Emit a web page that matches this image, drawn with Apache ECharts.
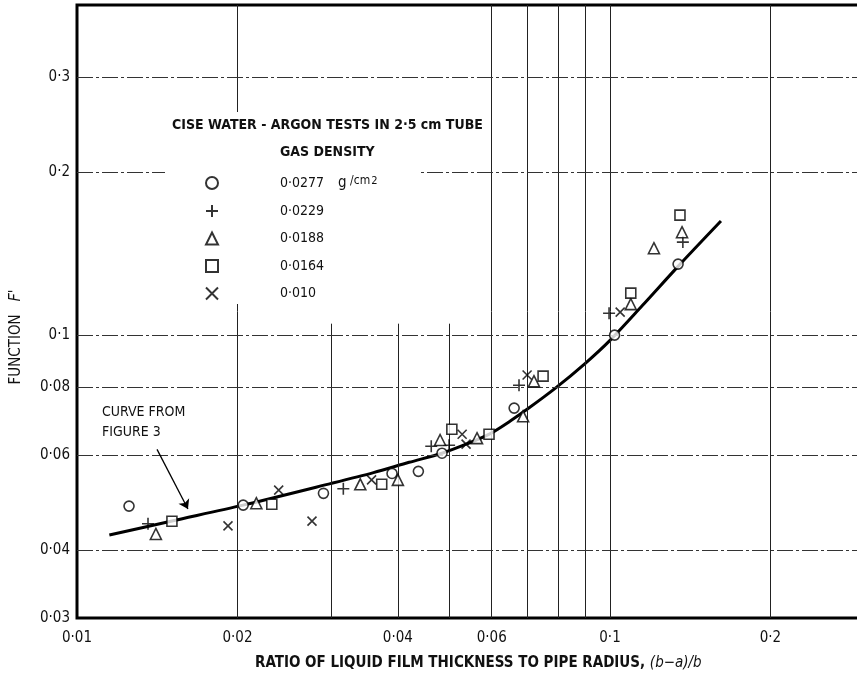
<!DOCTYPE html>
<html>
<head>
<meta charset="utf-8">
<script src="https://cdn.jsdelivr.net/npm/echarts@6/dist/echarts.min.js"></script>
<style>
html,body{margin:0;padding:0;background:#fff;}
#c{width:857px;height:679px;}
</style>
</head>
<body>
<div id="c"></div>
<script>
// ---- data (x = (b-a)/b, y = F') ----
const xTicks = [0.01, 0.02, 0.04, 0.06, 0.1, 0.2];
const yTicks = [0.03, 0.04, 0.06, 0.08, 0.1, 0.2, 0.3];
const xGridFull = [0.02, 0.06, 0.07, 0.08, 0.09, 0.1, 0.2];
const xGridPartial = [0.03, 0.04, 0.05];
const yGrid = [0.04, 0.06, 0.08, 0.1, 0.2, 0.3];

const densities = ['0·0277', '0·0229', '0·0188', '0·0164', '0·010'];

const circlePts = [[0.01252,0.0483],[0.0205,0.0485],[0.0290,0.0510],[0.0390,0.0555],[0.0437,0.0560],[0.0484,0.0605],[0.0661,0.0733],[0.102,0.100],[0.1342,0.1353]];
const plusPts = [[0.01359,0.0448],[0.0316,0.0520],[0.0462,0.0623],[0.0499,0.0626],[0.0675,0.0808],[0.0996,0.1098],[0.137,0.1486]];
const trianglePts = [[0.01406,0.0429],[0.0217,0.0489],[0.0340,0.0530],[0.0400,0.0540],[0.0480,0.0640],[0.0563,0.0645],[0.0687,0.0708],[0.0720,0.0822],[0.1094,0.1141],[0.1209,0.1448],[0.1365,0.1550]];
const squarePts = [[0.01507,0.0453],[0.0232,0.0487],[0.0373,0.0530],[0.0505,0.0670],[0.0593,0.0656],[0.0749,0.0840],[0.1094,0.1196],[0.1353,0.1667]];
const crossPts = [[0.0192,0.0444],[0.0239,0.0517],[0.0276,0.0453],[0.0357,0.0540],[0.0528,0.0656],[0.0537,0.0629],[0.0699,0.0844],[0.1045,0.1103]];

const curveX = [0.0115,0.015,0.0205,0.03,0.036,0.042,0.0484,0.054,0.0595,0.065,0.07,0.079,0.09,0.10,0.115,0.1342,0.1615];
const curveY = [0.0427,0.0453,0.0485,0.0532,0.0557,0.0582,0.0605,0.0630,0.0657,0.0694,0.0730,0.0798,0.0888,0.0978,0.1134,0.1340,0.1625];

const arrowFrom = [0.01413, 0.0615];
const arrowTo = [0.01615, 0.0477];

// ---- axis extents (log10 space) ----
const X_MIN = -2, X_MAX = -0.5253;
const Y_MIN = Math.log10(0.03), Y_MAX = -0.3897;

// ---- helpers ----
const L = Math.log10;
const fmt = v => String(Number(Math.pow(10, v).toPrecision(3))).replace('.', '·');
const P = pts => pts.map(p => [L(p[0]), L(p[1])]);
const FONT = "'Liberation Sans Narrow', 'DejaVu Sans Condensed', 'Roboto Condensed', sans-serif";

const markerBase = {type: 'scatter', z: 5, itemStyle: {color: '#fff', borderColor: '#000', borderWidth: 1.6}};
const plusPath = 'path://M0,6H12M6,0V12';
const crossPath = 'path://M0,0L10,10M10,0L0,10';

const vLines = [];
xGridFull.forEach(x => vLines.push([{coord: [L(x), Y_MIN]}, {coord: [L(x), Y_MAX]}]));
xGridPartial.forEach(x => vLines.push([{coord: [L(x), Y_MIN]}, {coord: [L(x), L(0.105)]}]));
const hLines = yGrid.map(y => [{coord: [X_MIN, L(y)]}, {coord: [X_MAX, L(y)]}]);

const chart = echarts.init(document.getElementById('c'), null, {renderer: 'canvas'});
chart.setOption({
  animation: false,
  backgroundColor: '#fff',
  grid: {left: 77, top: 5, width: 786, height: 613, outerBoundsMode: 'none', containLabel: false,
    show: true, borderColor: '#000', borderWidth: 3, backgroundColor: 'transparent'},
  xAxis: {
    type: 'value', min: X_MIN, max: X_MAX,
    axisLine: {show: false}, axisTick: {show: false}, splitLine: {show: false},
    axisLabel: {customValues: xTicks.map(L), formatter: fmt, color: '#111', fontSize: 15, fontFamily: FONT, margin: 13}
  },
  yAxis: {
    type: 'value', min: Y_MIN, max: Y_MAX,
    axisLine: {show: false}, axisTick: {show: false}, splitLine: {show: false},
    axisLabel: {customValues: yTicks.map(L), formatter: fmt, color: '#111', fontSize: 15, fontFamily: FONT, margin: 7}
  },
  legend: {
    orient: 'vertical', left: 200, top: 170, z: 20,
    itemWidth: 12, itemHeight: 12, itemGap: 13.5, selectedMode: false,
    data: densities,
    formatter: name => name === densities[0]
      ? '{s|}{t|' + name + '}{g|g}{c| /cm}{p|2}'
      : '{s|}{t|' + name + '}',
    textStyle: {
      fontFamily: FONT, fontSize: 14, color: '#111', lineHeight: 14,
      rich: {
        s: {width: 57},
        t: {fontFamily: FONT, fontSize: 14, color: '#111'},
        g: {fontFamily: FONT, fontSize: 15, color: '#111', padding: [0, 0, 0, 14]},
        c: {fontFamily: FONT, fontSize: 12, color: '#111', verticalAlign: 'bottom', padding: [0, 0, 3, 0]},
        p: {fontFamily: FONT, fontSize: 11, color: '#111', verticalAlign: 'top', padding: [0, 0, 10, 1]}
      }
    }
  },
  graphic: [
    {type: 'rect', z: 10, shape: {x: 165, y: 112, width: 255, height: 192}, style: {fill: '#fff'}},
    {type: 'text', z: 21, left: 172, top: 118, style: {text: 'CISE WATER - ARGON TESTS IN 2·5 cm TUBE', font: 'bold 14px ' + FONT, fill: '#111'}},
    {type: 'text', z: 21, left: 280, top: 145, style: {text: 'GAS DENSITY', font: 'bold 14px ' + FONT, fill: '#111'}},
    {type: 'text', z: 21, left: 102, top: 402, style: {text: 'CURVE FROM\nFIGURE 3', font: '14px ' + FONT, fill: '#111', lineHeight: 20}},
    {type: 'text', z: 21, x: 16, y: 337, rotation: Math.PI / 2,
      style: {text: '{a|FUNCTION   }{b|F}{a|\'}', align: 'center', verticalAlign: 'middle',
        rich: {a: {font: '15px ' + FONT, fill: '#111'}, b: {font: 'italic 16px ' + FONT, fill: '#111'}}}},
    {type: 'text', z: 21, left: 255, top: 656,
      style: {text: '{a|RATIO OF LIQUID FILM THICKNESS TO PIPE RADIUS, }{i|(b−a)/b}',
        rich: {a: {font: 'bold 15px ' + FONT, fill: '#111'}, i: {font: 'italic 15px ' + FONT, fill: '#111'}}}}
  ],
  series: [
    {
      type: 'line', name: 'grid', silent: true, data: [], z: 1,
      markLine: {
        silent: true, symbol: 'none', label: {show: false}, animation: false,
        lineStyle: {color: '#222', width: 1, type: 'solid'},
        data: vLines.concat(hLines.map(h => [Object.assign({}, h[0], {lineStyle: {type: [16, 3, 3, 3], color: '#333', width: 1}}), h[1]]))
      }
    },
    {
      type: 'line', name: 'curve', z: 4, silent: true, smooth: 0.3, symbol: 'none',
      lineStyle: {color: '#000', width: 3},
      data: curveX.map((x, i) => [L(x), L(curveY[i])])
    },
    {
      type: 'line', name: 'arrow', silent: true, data: [], z: 6,
      markLine: {
        silent: true, symbol: ['none', 'arrow'], symbolSize: 9, label: {show: false}, animation: false,
        lineStyle: {color: '#000', width: 1.3, type: 'solid'},
        data: [[{coord: [L(arrowFrom[0]), L(arrowFrom[1])]}, {coord: [L(arrowTo[0]), L(arrowTo[1])]}]]
      }
    },
    Object.assign({}, markerBase, {name: densities[0], symbol: 'circle', symbolSize: 10, data: P(circlePts)}),
    Object.assign({}, markerBase, {name: densities[1], symbol: plusPath, symbolSize: 12, itemStyle: {color: 'rgba(0,0,0,0)', borderColor: '#000', borderWidth: 1.6}, data: P(plusPts)}),
    Object.assign({}, markerBase, {name: densities[2], symbol: 'triangle', symbolSize: 11, data: P(trianglePts)}),
    Object.assign({}, markerBase, {name: densities[3], symbol: 'rect', symbolSize: 10, data: P(squarePts)}),
    Object.assign({}, markerBase, {name: densities[4], symbol: crossPath, symbolSize: 9, itemStyle: {color: 'rgba(0,0,0,0)', borderColor: '#000', borderWidth: 1.6}, data: P(crossPts)})
  ]
});
</script>
</body>
</html>
